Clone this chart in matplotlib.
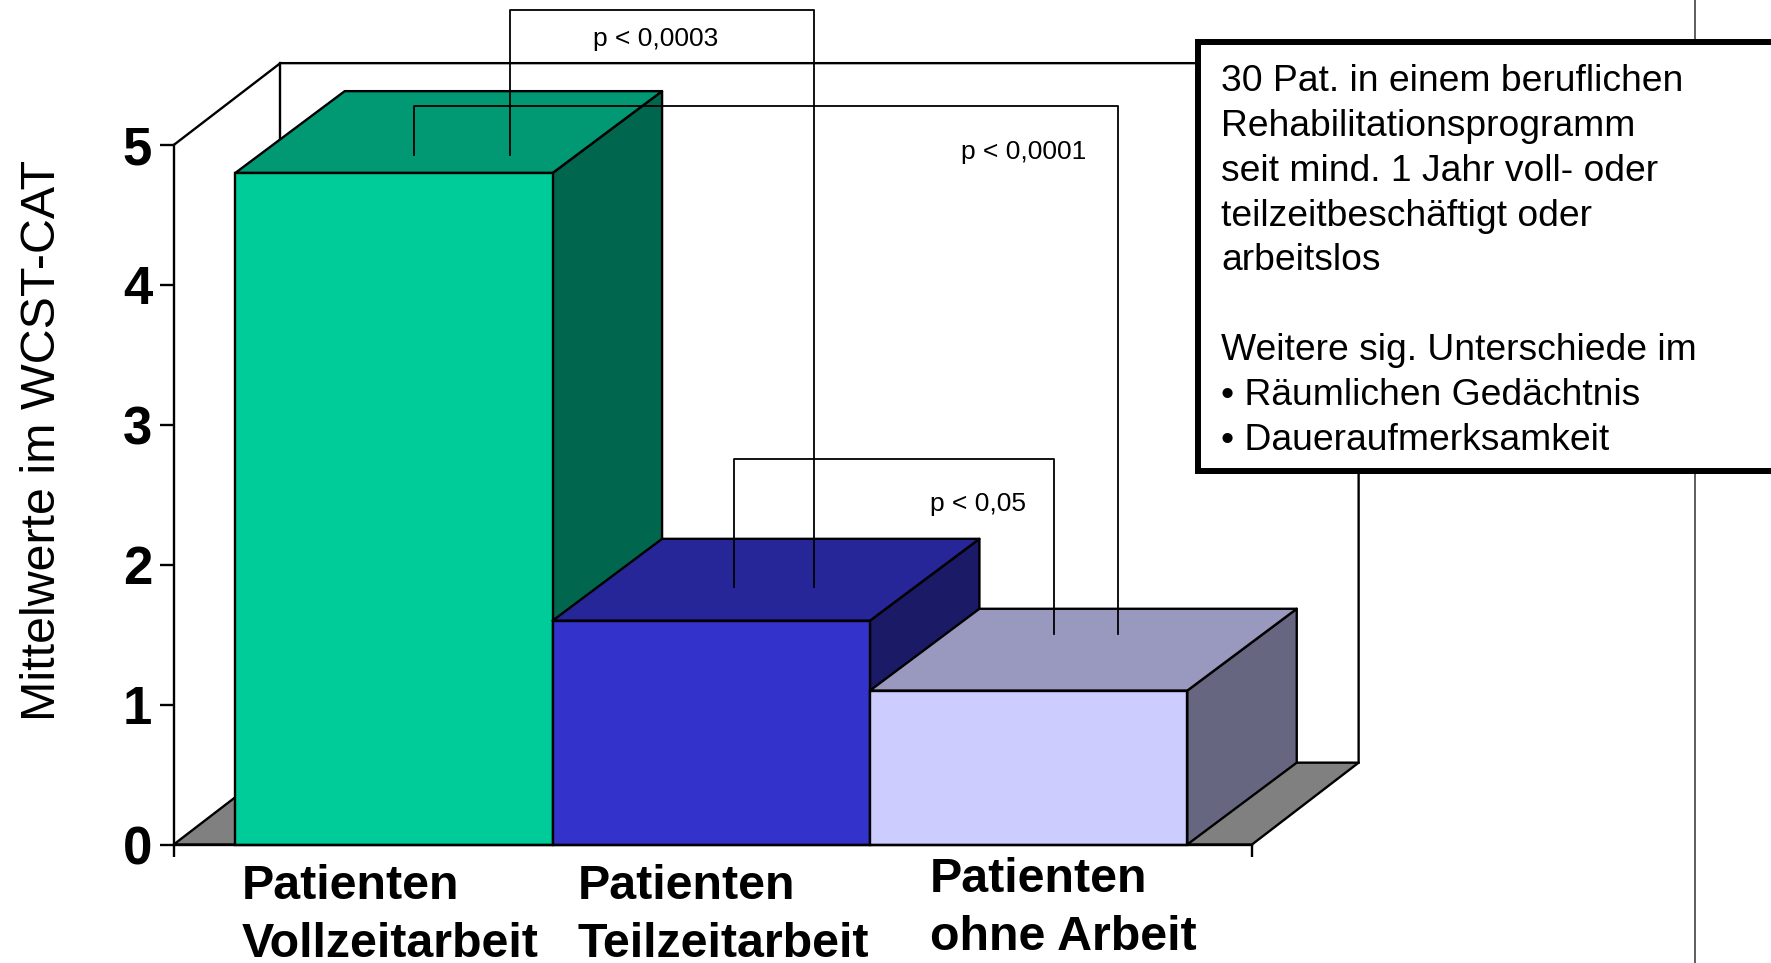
import matplotlib
matplotlib.use('Agg')
import matplotlib.pyplot as plt
from matplotlib.colors import to_rgb
from matplotlib.patches import Polygon, Rectangle

plt.rcParams['font.family'] = ['Liberation Sans', 'DejaVu Sans']

# Chart data
categories = [['Patienten', 'Vollzeitarbeit'], ['Patienten', 'Teilzeitarbeit'], ['Patienten', 'ohne Arbeit']]
values = [4.8, 1.6, 1.1]
colors = ['#00CC99', '#3333CC', '#CCCCFF']
y_ticks = [0, 1, 2, 3, 4, 5]
y_label = 'Mittelwerte im WCST-CAT'
box_lines = ['30 Pat. in einem beruflichen', 'Rehabilitationsprogramm', 'seit mind. 1 Jahr voll- oder',
             'teilzeitbeschäftigt oder', 'arbeitslos', '', 'Weitere sig. Unterschiede im',
             '• Räumlichen Gedächtnis', '• Daueraufmerksamkeit']
p_labels = ['p < 0,0003', 'p < 0,0001', 'p < 0,05']

W, H = 1771, 963
fig = plt.figure(figsize=(W / 100, H / 100), dpi=100, facecolor='white')

# pixel position (from top left) to figure fraction
def px(x, y):
    return x / W, 1 - y / H

AX_L, AX_R, AX_T, AX_B = 173.7, 1252, 145, 844.5
ax = fig.add_axes([AX_L / W, 1 - AX_B / H, (AX_R - AX_L) / W, (AX_B - AX_T) / H])
ax.patch.set_visible(False)
x_lo, x_hi = -0.694, 2.704
ax.set_xlim(x_lo, x_hi)
ax.set_ylim(0, 5)

# depth of the 3D effect, in data units
wall_dx = 0.336
bar_dx = 0.345
dy = 0.585
line_w = 1.7


def shade(color, factor):
    return tuple(c * factor for c in to_rgb(color))


def poly(points, face, z):
    ax.add_patch(Polygon(points, closed=True, facecolor=face, edgecolor='black', linewidth=line_w,
                         joinstyle='round', clip_on=False, zorder=z))


# Walls and floor
poly([(x_lo, 0), (x_lo + wall_dx, dy), (x_hi + wall_dx, dy), (x_hi, 0)], '#808080', 1)
ax.plot([x_lo, x_lo + wall_dx, x_hi + wall_dx, x_hi + wall_dx], [5, 5 + dy, 5 + dy, dy], color='black',
        lw=line_w, clip_on=False, zorder=1)
ax.plot([x_lo + wall_dx, x_lo + wall_dx], [dy, 5 + dy], color='black', lw=line_w, clip_on=False, zorder=1)

# Bars
for i, (val, col) in enumerate(zip(values, colors)):
    l, r = i - 0.5, i + 0.5
    z = 2 + i * 0.1
    poly([(r, 0), (r + bar_dx, dy), (r + bar_dx, val + dy), (r, val)], shade(col, 0.5), z)
    poly([(l, val), (l + bar_dx, val + dy), (r + bar_dx, val + dy), (r, val)], shade(col, 0.75), z)
    ax.bar(i, val, width=1, color=col, edgecolor='black', linewidth=line_w, zorder=z, clip_on=False)

# Axes and ticks
for s in ['top', 'right']:
    ax.spines[s].set_visible(False)
for s in ['left', 'bottom']:
    ax.spines[s].set_linewidth(line_w)
    ax.spines[s].set_zorder(5)
ax.set_yticks(y_ticks)
ax.set_yticklabels(y_ticks, fontsize=38, fontweight='bold')
ax.tick_params(axis='y', length=10, width=line_w, pad=5.5)
ax.set_xticks([x_lo, x_hi])
ax.set_xticklabels(['', ''])
ax.tick_params(axis='x', length=8.6, width=line_w)

x0, y0 = px(43, 440.5)
fig.text(x0, y0, y_label, rotation=90, fontsize=34.8, ha='center', va='center')

# Category labels
label_x = [241.5, 577.5, 929.5]
label_y = [(899, 957), (899, 957), (892, 950)]
for cat, lx, ly in zip(categories, label_x, label_y):
    for line, yy in zip(cat, ly):
        tx, ty = px(lx, yy)
        fig.text(tx, ty, line, fontsize=34.8, fontweight='bold', ha='left', va='baseline')

# Significance brackets
brackets = [
    [(510, 155), (510, 10), (814, 10), (814, 587)],
    [(414, 155), (414, 106), (1118, 106), (1118, 634)],
    [(734, 587), (734, 459), (1054, 459), (1054, 634)],
]
for b in brackets:
    pts = [px(*p) for p in b]
    fig.add_artist(plt.Line2D([p[0] for p in pts], [p[1] for p in pts], color='black', lw=1.3, zorder=6))

p_pos = [(655.5, 39), (1023.5, 152), (978, 504)]
for txt, pos in zip(p_labels, p_pos):
    tx, ty = px(*pos)
    fig.text(tx, ty, txt, fontsize=19, ha='center', va='center', zorder=7)

# Vertical rule on the right
vx, _ = px(1694.5, 0)
fig.add_artist(plt.Line2D([vx, vx], [0, 1], color='#333333', lw=1.1, zorder=6))

# Text box (runs off the right side)
bx, by = px(1198, 471)
fig.add_artist(Rectangle((bx, by), 700 / W, (471 - 42) / H, transform=fig.transFigure, facecolor='white',
                         edgecolor='black', linewidth=4.3, joinstyle='miter', zorder=8))
for i, line in enumerate(box_lines):
    tx, ty = px(1221, 81.5 + i * 44.85)
    fig.text(tx, ty, line, fontsize=26.85, ha='left', va='center', zorder=9)

plt.savefig('out.png', dpi=100)
